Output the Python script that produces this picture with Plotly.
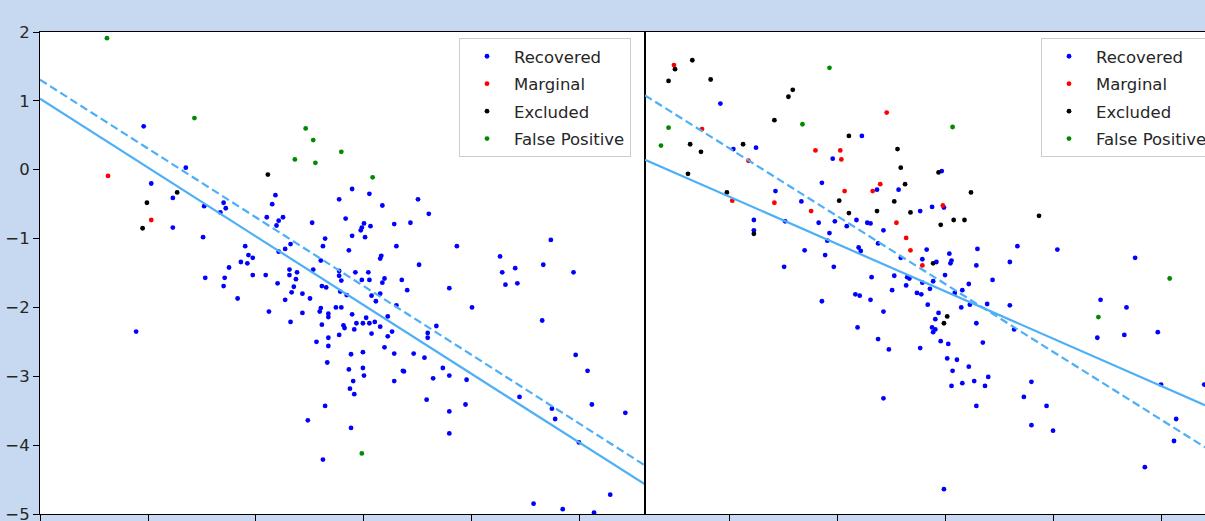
import plotly.graph_objects as go

# ---------------- data ----------------
categories = ["Recovered", "Marginal", "Excluded", "False Positive"]
cat_colors = ["#0000ff", "#ff0000", "#000000", "#008a00"]

y_ticks = [2, 1, 0, -1, -2, -3, -4, -5]
left_x_ticks = [0, 1, 2, 3, 4, 5]
right_x_ticks = [0, 1, 2, 3, 4]

# ----- left panel -----
left_rec_x = [0.96, 1.35, 1.03, 1.23, 1.52, 1.70, 1.72, 1.67, 1.23, 1.51,
              2.18, 2.15, 2.10, 2.21, 2.25, 2.19, 2.52, 2.77, 2.83, 2.64,
              2.62, 2.32, 2.27, 2.21, 1.90, 1.93, 1.97, 1.86, 1.92, 1.75,
              2.60, 2.53, 2.31, 2.38, 2.31, 2.37, 2.09, 1.97, 1.71, 1.53,
              1.70, 2.20, 2.35, 2.33, 2.43, 2.61, 2.65, 2.77, 2.77, 2.79,
              1.83, 2.27, 2.50, 2.12, 2.43, 2.32, 2.60, 2.59, 2.67, 2.67,
              2.74, 2.79, 2.61, 2.81, 2.82, 2.77, 2.56, 2.67, 2.67, 2.66,
              0.89, 2.64, 2.48, 2.62, 2.89, 3.05, 3.17, 3.50, 3.60, 3.00,
              2.98, 2.97, 3.06, 3.28, 3.43, 2.89, 3.01, 2.86, 3.30, 3.16,
              3.15, 3.51, 2.92, 3.04, 2.98, 3.05, 3.19, 3.17, 3.35, 3.40,
              2.78, 2.84, 3.07, 3.15, 3.11, 3.30, 2.89, 3.02, 3.10, 3.05,
              2.99, 2.93, 3.22, 3.15, 2.91, 3.26, 3.07, 3.22, 2.88, 2.99,
              3.19, 3.28, 3.46, 3.56, 3.59, 3.59, 3.86, 4.26, 4.73, 4.66,
              4.94, 4.28, 4.40, 4.31, 4.42, 3.79, 4.00, 4.65, 3.67, 4.96,
              2.86, 2.99, 3.00, 2.90, 3.28, 3.36, 3.37, 3.73, 3.79, 3.64,
              3.95, 5.07, 2.87, 2.91, 3.58, 3.94, 3.79, 4.44, 4.74, 4.77,
              5.11, 5.42, 2.88, 3.79, 4.99, 5.28, 4.57, 4.84, 5.13]
left_rec_y = [0.63, 0.03, -0.20, -0.41, -0.53, -0.48, -0.56, -0.62, -0.84, -0.98,
              -0.37, -0.50, -0.69, -0.74, -0.69, -0.81, -0.77, -0.43, -0.71, -1.00,
              -1.11, -1.08, -1.15, -1.19, -1.11, -1.24, -1.28, -1.34, -1.36, -1.42,
              -1.32, -1.45, -1.45, -1.49, -1.53, -1.59, -1.53, -1.53, -1.57, -1.57,
              -1.69, -1.65, -1.70, -1.78, -1.80, -1.69, -1.71, -1.47, -1.54, -1.61,
              -1.87, -1.89, -1.87, -2.06, -2.08, -2.21, -2.01, -2.06, -2.09, -2.14,
              -2.00, -2.00, -2.25, -2.26, -2.30, -2.40, -2.50, -2.44, -2.56, -2.80,
              -2.35, -3.43, -3.64, -4.21, -0.28, -0.35, -0.52, -0.43, -0.64, -0.78,
              -0.84, -0.88, -0.82, -0.79, -0.77, -0.96, -0.98, -1.17, -1.11, -1.25,
              -1.29, -1.38, -1.49, -1.49, -1.60, -1.60, -1.58, -1.64, -1.60, -1.75,
              -1.77, -1.82, -1.83, -1.80, -1.91, -1.97, -2.10, -2.15, -2.21, -2.23,
              -2.23, -2.23, -2.13, -2.28, -2.32, -2.35, -2.38, -2.42, -2.68, -2.65,
              -2.58, -2.67, -2.67, -2.73, -2.37, -2.44, -1.11, -1.26, -1.02, -1.38,
              -1.49, -1.49, -1.43, -1.67, -1.65, -1.72, -2.00, -2.19, -2.27, -2.69,
              -2.90, -2.88, -2.99, -3.07, -3.07, -2.92, -2.93, -2.88, -2.99, -3.03,
              -3.05, -2.92, -3.18, -3.26, -3.34, -3.41, -3.51, -3.30, -3.47, -3.62,
              -3.41, -3.53, -3.75, -3.83, -3.96, -4.72, -4.85, -4.93, -4.98]
left_mar_x = [0.63, 1.03]
left_mar_y = [-0.09, -0.73]
left_exc_x = [2.11, 1.27, 0.99, 0.95]
left_exc_y = [-0.07, -0.33, -0.48, -0.85]
left_fp_x = [0.62, 1.43, 2.46, 2.53, 2.36, 2.55, 2.79, 3.08, 2.98]
left_fp_y = [1.91, 0.75, 0.60, 0.43, 0.15, 0.10, 0.26, -0.11, -4.12]

left_line_x = [0.0, 5.602]
left_solid_y = [1.03, -4.57]
left_dash_y = [1.307, -4.295]

# ----- right panel -----
right_rec_x = [-0.08, 0.04, 0.25, 0.43, 0.23, 0.23, 0.52, 0.67, 0.86, 1.23,
               0.96, 0.83, 0.98, 0.93, 0.91, 1.09, 1.18, 1.28, 1.31, 1.43,
               1.38, 1.20, 1.22, 0.70, 0.89, 0.97, 0.51, 1.37, 1.57, 1.77,
               1.59, 1.79, 1.32, 1.53, 1.65, 1.67, 1.64, 1.79, 1.51, 1.74,
               1.78, 1.17, 1.21, 1.31, 0.86, 1.43, 1.19, 1.38, 1.48, 1.77,
               1.43,
               1.97, 1.88, 1.99, 1.83, 1.92, 2.04, 2.06, 2.05, 2.30, 2.67,
               2.60, 2.29, 3.04, 3.76, 2.00, 1.89, 1.86, 2.22, 2.16, 2.44,
               2.09, 1.84, 2.15, 2.23, 2.39, 2.60, 1.94, 1.91, 2.29, 1.88,
               1.91, 1.89, 2.64, 1.96, 2.03, 2.35, 3.44, 3.68, 3.41, 3.66,
               3.97, 2.02, 2.11, 2.07, 2.22, 2.06, 2.16, 2.27, 2.40, 2.37,
               2.80, 2.73, 2.94, 2.29, 2.80, 3.00, 4.00, 4.14, 4.12, 3.85,
               1.99, 4.40]
right_rec_y = [0.96, 0.30, 0.32, -0.31, -0.73, -0.88, -0.75, -0.46, -0.19, 0.49,
               0.16, -0.77, -0.75, -0.92, -1.03, -0.82, -0.73, -0.77, -0.78, -0.88,
               -1.07, -1.13, -1.18, -1.17, -1.24, -1.41, -1.41, -0.29, -0.29, -0.60,
               -1.28, -1.30, -1.56, -1.54, -1.56, -1.58, -1.68, -1.64, -1.75, -1.79,
               -1.81, -1.81, -1.83, -1.89, -1.91, -2.06, -2.29, -2.46, -2.61, -2.59,
               -3.32,
               -0.02, -0.54, -0.55, -1.16, -1.34, -1.22, -1.32, -1.36, -1.15, -1.11,
               -1.34, -1.39, -1.16, -1.28, -1.53, -1.62, -1.73, -1.66, -1.75, -1.60,
               -1.79, -1.96, -2.00, -1.96, -1.95, -1.97, -2.08, -2.17, -2.23, -2.29,
               -2.32, -2.36, -2.32, -2.49, -2.53, -2.51, -1.89, -2.00, -2.44, -2.40,
               -2.36, -2.74, -2.76, -2.92, -2.86, -3.14, -3.10, -3.07, -3.01, -3.14,
               -3.08, -3.30, -3.43, -3.43, -3.71, -3.79, -3.12, -3.62, -3.94, -4.32,
               -4.64, -3.12]
right_mar_x = [-0.51, -0.25, 0.18, 0.03, 0.42, 0.76, 0.80, 1.03, 1.04, 1.07,
               1.33, 1.40, 1.46, 1.55, 1.64, 1.68, 1.79, 1.98]
right_mar_y = [1.52, 0.59, 0.13, -0.45, -0.48, -0.60, 0.28, 0.28, 0.15, -0.31,
               -0.31, -0.21, 0.83, -0.77, -0.99, -1.17, -1.39, -0.52]
right_exc_x = [-0.34, -0.50, -0.56, -0.17, 0.55, 0.59, 0.42, -0.36, -0.26, 0.13,
               -0.38, -0.02, 0.23, 1.11, 1.02, 1.11, 1.56, 1.59, 1.63, 1.53,
               1.37, 1.68, 1.94, 2.24, 1.96, 2.08, 2.18, 2.87, 1.89, 2.02, 1.99]
right_exc_y = [1.59, 1.46, 1.29, 1.31, 1.06, 1.16, 0.72, 0.37, 0.26, 0.37,
               -0.06, -0.33, -0.93, 0.49, -0.45, -0.63, 0.30, 0.03, -0.21, -0.46,
               -0.60, -0.62, -0.04, -0.33, -0.80, -0.73, -0.73, -0.67, -1.36, -2.13, -2.23]
right_fp_x = [0.93, 0.68, -0.56, -0.63, 2.07, 4.08, 3.42]
right_fp_y = [1.48, 0.66, 0.61, 0.35, 0.62, -1.58, -2.14]

right_line_x = [-0.778, 4.407]
right_solid_y = [0.145, -3.42]
right_dash_y = [1.08, -4.03]

# ---------------- figure ----------------
FONT = "DejaVu Sans"
LINE_COLOR = "#4db0f7"
BG = "#c6d9f0"

fig = go.Figure()

left_sets = [(left_rec_x, left_rec_y), (left_mar_x, left_mar_y),
             (left_exc_x, left_exc_y), (left_fp_x, left_fp_y)]
right_sets = [(right_rec_x, right_rec_y), (right_mar_x, right_mar_y),
              (right_exc_x, right_exc_y), (right_fp_x, right_fp_y)]

for i, (xs, ys) in enumerate(left_sets):
    fig.add_trace(go.Scatter(
        x=xs, y=ys, mode="markers", name=categories[i],
        marker=dict(color=cat_colors[i], size=4.8, line=dict(width=0)),
        xaxis="x", yaxis="y", legend="legend", legendgroup="L" + str(i)))

for i, (xs, ys) in enumerate(right_sets):
    fig.add_trace(go.Scatter(
        x=xs, y=ys, mode="markers", name=categories[i],
        marker=dict(color=cat_colors[i], size=4.8, line=dict(width=0)),
        xaxis="x2", yaxis="y2", legend="legend2", legendgroup="R" + str(i)))

for lx, sy, dy, xa, ya in [(left_line_x, left_solid_y, left_dash_y, "x", "y"),
                           (right_line_x, right_solid_y, right_dash_y, "x2", "y2")]:
    fig.add_trace(go.Scatter(x=lx, y=sy, mode="lines", showlegend=False,
                             line=dict(color=LINE_COLOR, width=2.2),
                             xaxis=xa, yaxis=ya, hoverinfo="skip"))
    fig.add_trace(go.Scatter(x=lx, y=dy, mode="lines", showlegend=False,
                             line=dict(color=LINE_COLOR, width=2.2, dash="8px,4px"),
                             xaxis=xa, yaxis=ya, hoverinfo="skip"))

W, H = 1205, 521
ML, MR, MT, MB = 40, 0, 32, 7
pw = W - ML - MR
ph = H - MT - MB
split = 605 / pw

axis_common = dict(showgrid=False, zeroline=False, linecolor="#000000",
                   linewidth=1, ticks="outside", tickcolor="#000000",
                   tickwidth=1)

legend_common = dict(
    font=dict(family=FONT, size=16.5, color="#262626"),
    bgcolor="rgba(255,255,255,0.85)", bordercolor="#cccccc", borderwidth=1,
    traceorder="grouped", tracegroupgap=3, itemwidth=44,
    xref="paper", yref="paper", yanchor="top", xanchor="left")

legend_top = (H - MB - 38) / ph

fig.update_layout(
    width=W, height=H,
    margin=dict(l=ML, r=MR, t=MT, b=MB, pad=0, autoexpand=False),
    paper_bgcolor=BG, plot_bgcolor="#ffffff",
    font=dict(family=FONT, size=16.5, color="#262626"),
    showlegend=True,
    xaxis=dict(domain=[0, split], range=[0, 5.602], tickvals=left_x_ticks,
               showticklabels=False, ticklen=7, mirror=True, showline=True,
               anchor="y", **axis_common),
    yaxis=dict(domain=[0, 1], range=[-5, 2], tickvals=y_ticks,
               ticktext=[str(v).replace("-", "\u2212") for v in y_ticks],
               ticklen=6, mirror=True, showline=True, anchor="x",
               ticklabeloverflow="allow",
               tickfont=dict(family=FONT, size=16.5, color="#262626"),
               **axis_common),
    xaxis2=dict(domain=[split, 1], range=[-0.778, 4.407], tickvals=right_x_ticks,
                showticklabels=False, ticklen=7, mirror=True, showline=True,
                anchor="y2", **axis_common),
    yaxis2=dict(domain=[0, 1], range=[-5, 2], showticklabels=False,
                showgrid=False, zeroline=False, showline=True,
                linecolor="#000000", linewidth=1, ticks="", mirror=False,
                anchor="x2"),
    legend=dict(x=(459 - ML) / pw, y=legend_top, **legend_common),
    legend2=dict(x=(1041 - ML) / pw, y=legend_top, **legend_common),
)

fig.write_html("out.html",
               config={"displayModeBar": False},
               post_script="document.body.style.margin='0';"
                           "document.body.style.padding='0';"
                           "document.body.style.overflow='hidden';")
